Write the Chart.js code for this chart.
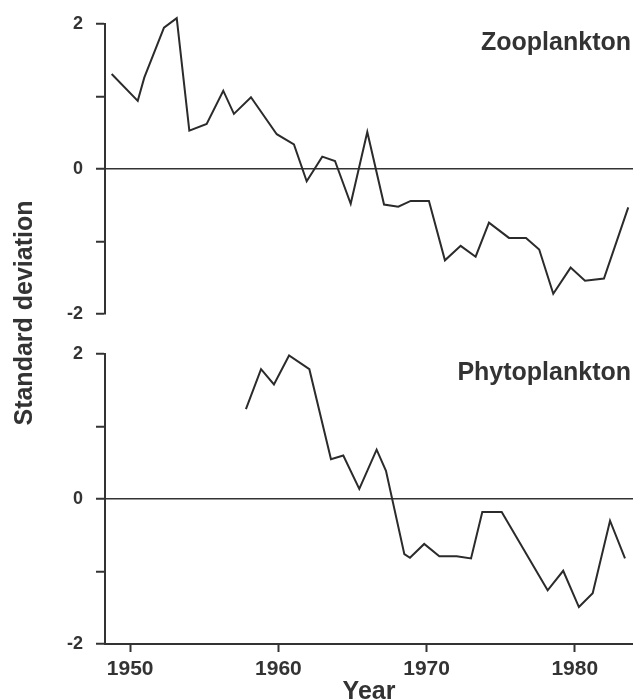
<!DOCTYPE html>
<html>
<head>
<meta charset="utf-8">
<script src="https://cdn.jsdelivr.net/npm/chart.js@4.4.1/dist/chart.umd.min.js"></script>
<style>
  body { margin: 0; background: #fff; }
  #wrap { position: relative; width: 633px; height: 700px; overflow: hidden; }
  canvas { position: absolute; left: 0; }
  #zooChart { top: 0; z-index: 1; }
  #phytoChart { top: 330px; }
  #yTitle {
    position: absolute; left: -126px; top: 297.5px; width: 300px; height: 30px;
    line-height: 30px; text-align: center; transform: rotate(-90deg);
    font: bold 25px "Liberation Sans", Arial, sans-serif; color: #333; z-index: 2;
  }
</style>
</head>
<body>
<div id="wrap">
  <canvas id="zooChart" width="633" height="354"></canvas>
  <canvas id="phytoChart" width="633" height="370"></canvas>
  <div id="yTitle">Standard deviation</div>
</div>
<script>
// values (year, standard deviation)
const zooYears = [1948.75, 1950.51, 1950.95, 1952.28, 1953.14, 1953.99, 1955.16, 1956.28, 1957.00, 1958.15,
  1959.89, 1961.05, 1961.91, 1962.96, 1963.82, 1964.88, 1966.00, 1967.13, 1968.09, 1968.93,
  1970.16, 1971.24, 1972.30, 1973.31, 1974.21, 1975.56, 1976.71, 1977.60, 1978.55, 1979.72,
  1980.69, 1981.97, 1983.61]
const zooValues = [1.31, 0.94, 1.26, 1.95, 2.08, 0.53, 0.62, 1.08, 0.76, 0.99,
  0.48, 0.34, -0.17, 0.17, 0.11, -0.48, 0.51, -0.49, -0.52, -0.44,
  -0.44, -1.26, -1.06, -1.21, -0.74, -0.95, -0.95, -1.11, -1.72, -1.36,
  -1.54, -1.51, -0.53]

const phytoYears = [1957.81, 1958.83, 1959.70, 1960.72, 1962.09, 1963.55, 1964.38, 1965.46, 1966.63, 1967.26,
  1968.50, 1968.88, 1969.84, 1970.86, 1972.03, 1973.00, 1973.76, 1975.07, 1978.17, 1979.22,
  1980.28, 1981.21, 1982.38, 1983.39]
const phytoValues = [1.24, 1.79, 1.58, 1.98, 1.79, 0.55, 0.60, 0.14, 0.68, 0.39,
  -0.76, -0.81, -0.62, -0.79, -0.79, -0.82, -0.18, -0.18, -1.26, -0.99,
  -1.49, -1.30, -0.30, -0.82]

const yearTicks = [1950, 1960, 1970, 1980]
const sdTicks = [-2, -1, 0, 1, 2]
const xMin = 1948.3
const xMax = 1983.93

const ink = '#333'
Chart.defaults.font.family = '"Liberation Sans", Arial, sans-serif'
Chart.defaults.color = ink

const panelLabel = {
  id: 'panelLabel',
  afterDraw(chart, args, opts){
    const {ctx, chartArea} = chart
    ctx.save()
    ctx.font = 'bold 25px "Liberation Sans", Arial, sans-serif'
    ctx.fillStyle = ink
    ctx.textAlign = 'right'
    ctx.textBaseline = 'alphabetic'
    ctx.fillText(opts.text, chartArea.right - 2, chartArea.top + 26)
    ctx.restore()
  }
}

function makePanel(canvasId, years, values, name, showYears){
  const xScale = {
    type: 'linear', min: xMin, max: xMax, display: showYears,
    afterBuildTicks: s => { s.ticks = yearTicks.map(v => ({value: v})) },
    afterFit: s => { if (showYears) s.height = 56 },
    grid: {drawOnChartArea: false, drawTicks: true, tickLength: 8, tickWidth: 2, tickColor: ink},
    border: {display: true, color: ink, width: 2},
    ticks: {callback: v => String(v), font: {size: 21, weight: 'bold'}, color: ink, padding: 5, maxRotation: 0, autoSkip: false},
    title: {display: true, text: 'Year', color: ink, padding: 0, font: {size: 25, weight: 'bold', lineHeight: 0.6}}
  }

  const yScale = {
    type: 'linear', min: -2, max: 2,
    afterBuildTicks: s => { s.ticks = sdTicks.map(v => ({value: v})) },
    afterFit: s => { s.width = 105 },
    grid: {
      drawTicks: true, tickLength: 9, tickWidth: 2, tickColor: ink,
      color: ctx => (ctx.tick && ctx.tick.value === 0) ? ink : 'rgba(0,0,0,0)',
      lineWidth: 1.5
    },
    border: {display: true, color: ink, width: 2},
    ticks: {callback: v => (v % 2 === 0 ? String(v) : ''), font: {size: 18, weight: 'bold'}, color: ink, padding: 13}
  }

  return new Chart(document.getElementById(canvasId), {
    type: 'line',
    data: {
      datasets: [{
        data: years.map((yr, i) => ({x: yr, y: values[i]})),
        borderColor: '#2b2b2b',
        borderWidth: 2,
        pointRadius: 0,
        tension: 0,
        fill: false,
        clip: false
      }]
    },
    options: {
      responsive: false,
      animation: false,
      // top panel canvas runs 40px past its axis so the y labels don't squeeze the plot
      layout: {padding: {top: 24, right: 0, left: 0, bottom: showYears ? 0 : 40}},
      scales: {x: xScale, y: yScale},
      plugins: {
        legend: {display: false},
        tooltip: {enabled: false},
        panelLabel: {text: name}
      }
    },
    plugins: [panelLabel]
  })
}

makePanel('zooChart', zooYears, zooValues, 'Zooplankton', false)
makePanel('phytoChart', phytoYears, phytoValues, 'Phytoplankton', true)
</script>
</body>
</html>
